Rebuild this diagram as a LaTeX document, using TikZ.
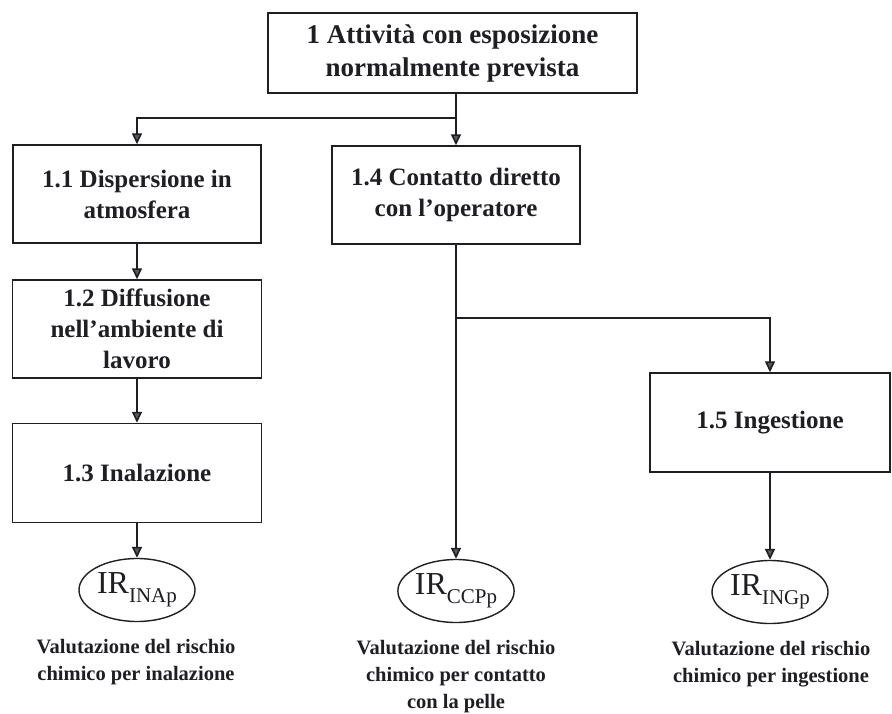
\documentclass[tikz,border=0pt]{standalone}
\usepackage{fontspec}
\setmainfont{Liberation Serif}
\usetikzlibrary{arrows.meta,shapes.geometric}
\definecolor{ink}{HTML}{1E1E24}
\tikzset{
  box/.style={draw=ink, line width=1.5pt, rectangle, align=center, inner sep=2pt,
    font=\bfseries\fontsize{25}{31}\selectfont, text=ink},
  oval/.style={draw=ink, line width=1.4pt, ellipse, minimum width=116pt, minimum height=63pt,
    inner sep=0pt, text=ink},
  lbl/.style={align=center, font=\bfseries\fontsize{20.5}{27}\selectfont, text=ink},
  ln/.style={draw=ink, line width=1.6pt},
  arr/.style={ln, -{Triangle[length=11pt,width=10pt,fill=black!65]}},
}
\newcommand{\IRsym}[1]{{\fontsize{32}{32}\selectfont IR}\raisebox{-9pt}{\fontsize{21}{21}\selectfont #1}}
\begin{document}
\begin{tikzpicture}[x=1pt,y=-1pt]
\useasboundingbox (0,0) rectangle (892,713);
\node[box, minimum width=369pt, minimum height=80pt, font=\bfseries\fontsize{27}{33}\selectfont] (top) at (452.5,53) {1 Attività con esposizione\\normalmente prevista};
\node[box, minimum width=248pt, minimum height=98pt] (c11) at (137,194) {1.1 Dispersione in\\atmosfera};
\node[box, minimum width=249pt, minimum height=98pt] (c12) at (137,329) {1.2 Diffusione\\nell’ambiente di\\lavoro};
\node[box, minimum width=249pt, minimum height=99pt] (c13) at (137,473) {1.3 Inalazione};
\node[box, minimum width=248pt, minimum height=98pt] (c14) at (456,195) {1.4 Contatto diretto\\con l’operatore};
\node[box, minimum width=240pt, minimum height=99pt] (c15) at (770,422.5) {1.5 Ingestione};

\node[oval] (e1) at (137,590) {\IRsym{INAp}};
\node[oval] (e2) at (456,591) {\IRsym{CCPp}};
\node[oval] (e3) at (770,592) {\IRsym{INGp}};

\node[lbl] (l1) at (136,662) {Valutazione del rischio\\chimico per inalazione};
\node[lbl] (l2) at (456,677) {Valutazione del rischio\\chimico per contatto\\con la pelle};
\node[lbl] (l3) at (771,664) {Valutazione del rischio\\chimico per ingestione};

\coordinate (j1) at (456,118);
\coordinate (j2) at (456,318);
\draw[ln] (top.south -| j1) -- (j1);
\draw[arr] (j1) -- (c14.north);
\draw[arr] (j1) -| (c11.north);
\draw[arr] (c11.south) -- (c12.north);
\draw[arr] (c12.south) -- (c13.north);
\draw[arr] (c13.south) -- (e1.north);
\draw[arr] (c14.south) -- (e2.north);
\draw[arr] (j2) -| (c15.north);
\draw[arr] (c15.south) -- (e3.north);
\end{tikzpicture}
\end{document}
